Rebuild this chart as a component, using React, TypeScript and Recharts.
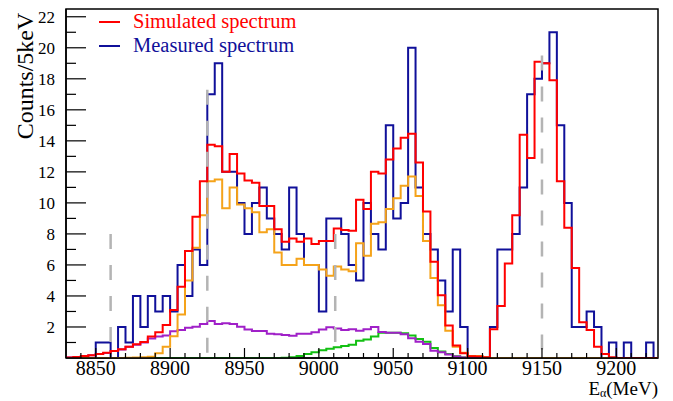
import React from 'react';
import {
  ComposedChart,
  Line,
  XAxis,
  YAxis,
  ReferenceLine,
  ReferenceArea,
} from 'recharts';

// 5 keV bins starting at 8830 keV
const binStarts = [
  8830, 8835, 8840, 8845, 8850, 8855, 8860, 8865, 8870, 8875,
  8880, 8885, 8890, 8895, 8900, 8905, 8910, 8915, 8920, 8925,
  8930, 8935, 8940, 8945, 8950, 8955, 8960, 8965, 8970, 8975,
  8980, 8985, 8990, 8995, 9000, 9005, 9010, 9015, 9020, 9025,
  9030, 9035, 9040, 9045, 9050, 9055, 9060, 9065, 9070, 9075,
  9080, 9085, 9090, 9095, 9100, 9105, 9110, 9115, 9120, 9125,
  9130, 9135, 9140, 9145, 9150, 9155, 9160, 9165, 9170, 9175,
  9180, 9185, 9190, 9195, 9200, 9205, 9210, 9215, 9220, 9225,
];
const lastEdge = 9230;

const measured = [
  0, 0, 0, 0, 1, 1, 0, 2, 1, 4,
  2, 4, 3, 4, 3, 6, 4, 7, 6, 17,
  19, 12, 12, 10, 8, 10, 11, 9, 8, 7,
  11, 8, 6, 6, 3, 9, 9, 8, 6, 5,
  10, 8, 7, 15, 9, 10, 20, 11, 8, 7,
  5, 3, 7, 2, 0, 0, 0, 2, 7, 7,
  8, 11, 17, 18, 19, 21, 15, 10, 2, 2,
  3, 2, 0, 1, 0, 1, 0, 0, 1, 0,
];

const simulated = [
  0.03, 0.06, 0.13, 0.17, 0.26, 0.34, 0.45, 0.56, 0.73, 0.88,
  1.03, 1.38, 1.66, 2.13, 3.1, 4.6, 6.9, 9.1, 11.4, 13.75,
  13.65, 12.0, 13.15, 11.9, 11.45, 11.3, 9.8, 9.8, 8.3, 7.5,
  7.7, 7.5, 7.7, 7.35, 7.55, 7.55, 8.35, 8.25, 8.2, 10.2,
  9.6, 12.0, 11.9, 12.8, 13.5, 14.2, 14.45, 12.6, 9.45, 6.2,
  4.05, 2.1, 0.8, 0.3, 0.12, 0.1, 0.05, 1.85, 3.35, 6.1,
  9.2, 14.4, 12.9, 19.1, 19.0, 17.9, 11.4, 8.4, 5.8, 2.3,
  1.8, 0.73, 0.26, 0.05, 0, 0, 0, 0, 0, 0,
];

const orangeComp = [
  0, 0, 0, 0, 0, 0, 0, 0, 0.02, 0.03,
  0.05, 0.08, 0.3, 0.73, 1.4, 2.8, 5.0, 7.1, 9.2, 11.4,
  11.5, 9.65, 11.0, 9.9, 9.65, 9.4, 8.1, 8.3, 6.8, 6.0,
  6.0, 6.4, 6.0, 6.0, 5.7, 5.3, 5.9, 5.7, 5.6, 7.4,
  6.6, 8.65, 8.75, 9.6, 10.3, 11.1, 11.7, 10.45, 7.55, 5.15,
  3.4, 1.76, 0.73, 0.34, 0.13, 0.13, 0.05, 0, 0, 0,
  0, 0, 0, 0, 0, 0, 0, 0, 0, 0,
  0, 0, 0, 0, 0, 0, 0, 0, 0, 0,
];

const purpleComp = [
  0.03, 0.06, 0.13, 0.17, 0.25, 0.33, 0.45, 0.55, 0.72, 0.85,
  1.0, 1.25, 1.38, 1.45, 1.72, 1.8, 1.95, 2.02, 2.19, 2.39,
  2.19, 2.24, 2.19, 2.02, 1.83, 1.74, 1.74, 1.57, 1.53, 1.48,
  1.44, 1.57, 1.57, 1.66, 1.83, 1.98, 1.9, 1.8, 1.85, 1.76,
  1.85, 2.0, 1.68, 1.63, 1.63, 1.53, 1.27, 1.05, 0.9, 0.47,
  0.37, 0.22, 0.1, 0.04, 0, 0, 0, 0, 0, 0,
  0, 0, 0, 0, 0, 0, 0, 0, 0, 0,
  0, 0, 0, 0, 0, 0, 0, 0, 0, 0,
];

const greenComp = [
  0, 0, 0, 0, 0, 0, 0, 0, 0, 0,
  0, 0, 0, 0, 0, 0, 0, 0, 0, 0,
  0, 0, 0, 0, 0, 0, 0, 0, 0, 0.02,
  0.05, 0.13, 0.25, 0.37, 0.5, 0.6, 0.7, 0.78, 0.85, 1.12,
  1.2, 1.38, 1.62, 1.62, 1.62, 1.6, 1.45, 1.22, 1.05, 0.65,
  0.42, 0.25, 0.12, 0.04, 0, 0, 0, 0, 0, 0,
  0, 0, 0, 0, 0, 0, 0, 0, 0, 0,
  0, 0, 0, 0, 0, 0, 0, 0, 0, 0,
];

// dashed marker lines: position (keV) and height (counts)
const markerEnergies = [8860, 8925, 9011, 9150];
const markerHeights = [8, 17.3, 8, 19.5];

const xTicks = [
  8840, 8850, 8860, 8870, 8880, 8890, 8900, 8910, 8920, 8930, 8940,
  8950, 8960, 8970, 8980, 8990, 9000, 9010, 9020, 9030, 9040, 9050,
  9060, 9070, 9080, 9090, 9100, 9110, 9120, 9130, 9140, 9150, 9160,
  9170, 9180, 9190, 9200, 9210, 9220,
];
const yTicks = [
  1, 2, 3, 4, 5, 6, 7, 8, 9, 10, 11,
  12, 13, 14, 15, 16, 17, 18, 19, 20, 21, 22,
];

const legendItems = [
  { label: 'Simulated spectrum', color: '#ff0000' },
  { label: 'Measured spectrum', color: '#10109a' },
];

const FONT = 'Liberation Serif';

const data = binStarts.map((e, i) => ({
  e,
  measured: measured[i],
  simulated: simulated[i],
  orange: orangeComp[i],
  purple: purpleComp[i],
  green: greenComp[i],
}));
// close the last bin so the step line runs to the edge
data.push({ ...data[data.length - 1], e: lastEdge });

const XTick = (props: any) => {
  const { x, y, payload } = props;
  const v = payload.value;
  const major = v % 50 === 0;
  return (
    <g>
      <line x1={x} x2={x} y1={y} y2={y - (major ? 10 : 5)} stroke="#000" strokeWidth={1.2} />
      {major && (
        <text
          x={x}
          y={y + 17}
          textAnchor="middle"
          fontSize={20}
          fontFamily={FONT}
          style={{ fontFamily: FONT }}
          fill="#000"
        >
          {v}
        </text>
      )}
    </g>
  );
};

const YTick = (props: any) => {
  const { x, y, payload } = props;
  const v = payload.value;
  const major = v % 2 === 0;
  return (
    <g>
      <line x1={x} x2={x + (major ? 20 : 10)} y1={y} y2={y} stroke="#000" strokeWidth={1.2} />
      {major && (
        <text
          x={x - 11}
          y={y + 6}
          textAnchor="end"
          fontSize={17}
          fontFamily={FONT}
          style={{ fontFamily: FONT }}
          fill="#000"
        >
          {v}
        </text>
      )}
    </g>
  );
};

const App: React.FC = () => {
  return (
    <div style={{ position: 'absolute', left: 0, top: 0, width: 673, height: 401, background: '#fff' }}>
      <ComposedChart
        width={673}
        height={401}
        data={data}
        margin={{ top: 9, right: 15, left: 0, bottom: 0 }}
        style={{ fontFamily: FONT }}
      >
        <XAxis
          dataKey="e"
          type="number"
          domain={[8830, 9228]}
          allowDataOverflow
          ticks={xTicks}
          interval={0}
          tick={<XTick />}
          tickLine={false}
          tickSize={0}
          tickMargin={0}
          height={43}
          axisLine={{ stroke: '#000', strokeWidth: 1.5 }}
        />
        <YAxis
          type="number"
          domain={[0, 22.5]}
          allowDataOverflow
          ticks={yTicks}
          interval={0}
          tick={<YTick />}
          tickLine={false}
          tickSize={0}
          tickMargin={0}
          width={66}
          axisLine={{ stroke: '#000', strokeWidth: 1.5 }}
        />
        <ReferenceArea
          x1={8830}
          x2={9228}
          y1={0}
          y2={22.5}
          fill="none"
          fillOpacity={0}
          stroke="#000"
          strokeWidth={1.5}
        />
        <Line type="stepAfter" dataKey="measured" stroke="#10109a" strokeWidth={2} dot={false} isAnimationActive={false} />
        <Line type="stepAfter" dataKey="green" stroke="#12c012" strokeWidth={2} dot={false} isAnimationActive={false} />
        <Line type="stepAfter" dataKey="purple" stroke="#a020c8" strokeWidth={2} dot={false} isAnimationActive={false} />
        <Line type="stepAfter" dataKey="orange" stroke="#f5a31a" strokeWidth={2} dot={false} isAnimationActive={false} />
        <Line type="stepAfter" dataKey="simulated" stroke="#ff0000" strokeWidth={2} dot={false} isAnimationActive={false} />
        {markerEnergies.map((m, i) => (
          <ReferenceLine
            key={m}
            segment={[{ x: m, y: markerHeights[i] }, { x: m, y: 0 }]}
            stroke="#b4b4b4"
            strokeWidth={2.5}
            strokeDasharray="15 16"
          />
        ))}
      </ComposedChart>
      <svg
        width={673}
        height={401}
        style={{ position: 'absolute', left: 0, top: 0, pointerEvents: 'none' }}
      >
        {legendItems.map((item, i) => (
          <g key={item.label}>
            <line x1={99} x2={120} y1={22 + 24 * i} y2={22 + 24 * i} stroke={item.color} strokeWidth={2} />
            <text x={133} y={28 + 24 * i} fontSize={20.5} fontFamily={FONT} fill={item.color}>
              {item.label}
            </text>
          </g>
        ))}
        <text
          transform="translate(33,76) rotate(-90)"
          textAnchor="middle"
          fontSize={24}
          fontFamily={FONT}
          fill="#000"
        >
          Counts/5keV
        </text>
        <text x={658} y={395} textAnchor="end" fontSize={19} fontFamily={FONT} fill="#000">
          E
          <tspan fontSize={12} dy={2}>α</tspan>
          <tspan dy={-2}>(MeV)</tspan>
        </text>
      </svg>
    </div>
  );
};

export default App;
